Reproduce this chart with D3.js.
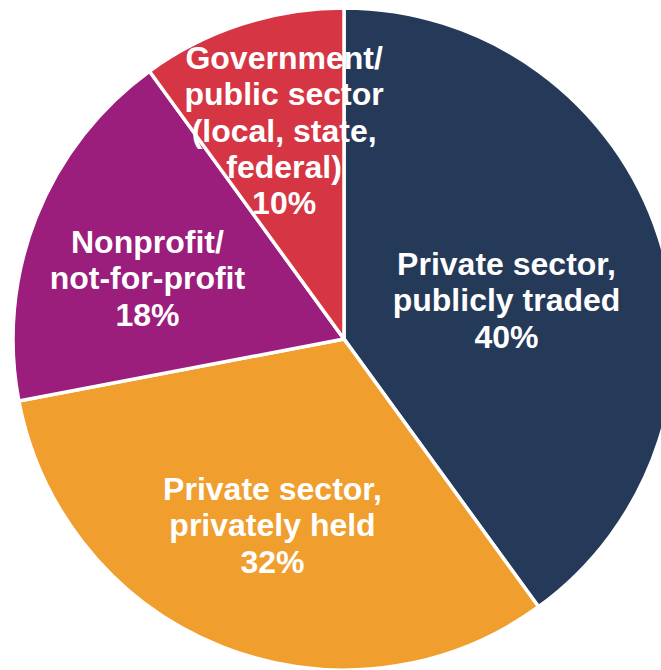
<!DOCTYPE html>
<html>
<head>
<meta charset="utf-8">
<script src="https://cdn.jsdelivr.net/npm/d3@7"></script>
<style>
  html, body { margin: 0; padding: 0; background: #ffffff; }
  svg { display: block; }
  .lbl { font-family: "Liberation Sans", Arial, sans-serif; font-weight: bold; fill: #ffffff; }
</style>
</head>
<body>
<script>
// Employer sector breakdown
const categories = [
  "Private sector, publicly traded",
  "Private sector, privately held",
  "Nonprofit/ not-for-profit",
  "Government/ public sector (local, state, federal)"
];
const shares = [40, 32, 18, 10];
const labelLines = [
  ["Private sector,", "publicly traded"],
  ["Private sector,", "privately held"],
  ["Nonprofit/", "not-for-profit"],
  ["Government/", "public sector", "(local, state,", "federal)"]
];
const colors = ["#253a59", "#f09e2e", "#9b1d7c", "#d63644"];

// Label block placement, as offsets from the pie centre in units of the radius
// (x = block centre, y = first baseline)
const labelAnchor = [
  [0.491, -0.193],
  [-0.216, 0.487],
  [-0.594, -0.260],
  [-0.181, -0.816]
];

const W = 661, H = 670;
const cx = 344, cy = 339, R = 331;
const lineH = 36.3;

const svg = d3.select("body").append("svg")
  .attr("width", W).attr("height", H);

const g = svg.append("g").attr("transform", `translate(${cx},${cy})`);

const pie = d3.pie().sort(null).value(d => d.value);
const arc = d3.arc().innerRadius(0).outerRadius(R);

const data = categories.map((c, i) => ({ name: c, value: shares[i], lines: labelLines[i], color: colors[i], anchor: labelAnchor[i] }));
const arcs = pie(data);

g.selectAll("path.slice")
  .data(arcs)
  .join("path")
  .attr("class", "slice")
  .attr("d", arc)
  .attr("fill", d => d.data.color)
  .attr("stroke", "#ffffff")
  .attr("stroke-width", 3.5)
  .attr("stroke-linejoin", "miter");

const labels = g.selectAll("text.lbl")
  .data(arcs)
  .join("text")
  .attr("class", "lbl")
  .attr("text-anchor", "middle")
  .attr("font-size", 32)
  .attr("x", d => d.data.anchor[0] * R)
  .attr("y", d => d.data.anchor[1] * R);

labels.each(function(d) {
  const t = d3.select(this);
  const lines = d.data.lines.concat([d3.format(".0f")(d.data.value) + "%"]);
  lines.forEach((ln, i) => {
    t.append("tspan")
      .attr("x", d.data.anchor[0] * R)
      .attr("y", d.data.anchor[1] * R + i * lineH)
      .text(ln);
  });
});
</script>
</body>
</html>
